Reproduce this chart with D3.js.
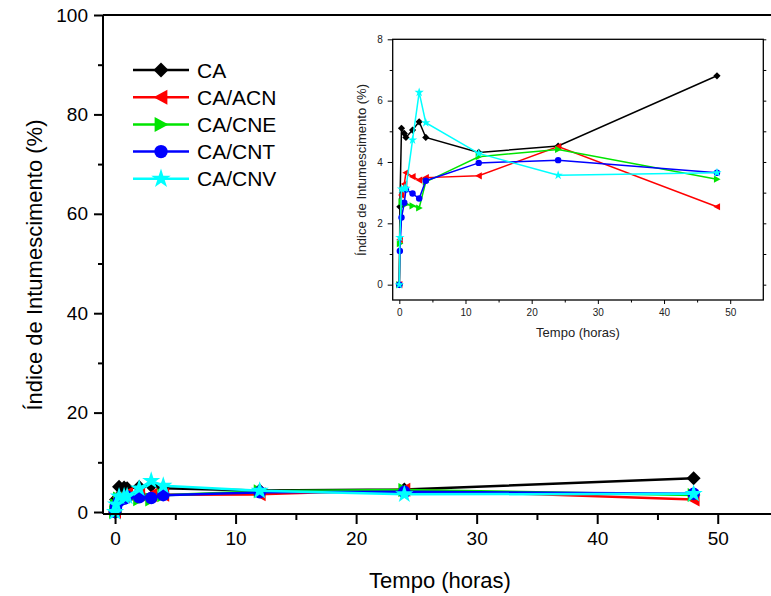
<!DOCTYPE html>
<html>
<head>
<meta charset="utf-8">
<script src="https://cdn.jsdelivr.net/npm/d3@7"></script>
<style>
  body { margin: 0; background: #fff; }
  text { font-family: "Liberation Sans", Arial, sans-serif; }
</style>
</head>
<body>
<script>
// time points (horas)
var tempo = [0, 0.083, 0.33, 0.75, 1, 2, 3, 4, 12, 24, 48];

var ca    = [0, 2.54, 5.10, 4.93, 4.80, 5.04, 5.31, 4.80, 4.31, 4.52, 6.81];
var caAcn = [0, 1.47, 2.92, 3.28, 3.65, 3.52, 3.41, 3.49, 3.55, 4.50, 2.54];
var caCne = [0, 1.34, 2.70, 2.65, 2.62, 2.57, 2.50, 3.35, 4.17, 4.41, 3.44];
var caCnt = [0, 1.10, 2.19, 2.67, 3.10, 2.97, 2.81, 3.39, 3.97, 4.06, 3.65];
var caCnv = [0, 1.54, 3.12, 3.14, 3.14, 4.72, 6.27, 5.28, 4.28, 3.57, 3.65];

var seriesNames = ["CA", "CA/ACN", "CA/CNE", "CA/CNT", "CA/CNV"];
var seriesVals = [ca, caAcn, caCne, caCnt, caCnv];
var colors = ["#000000", "#ff0000", "#00e400", "#0000ff", "#00ffff"];
var shapes = ["diamond", "left", "right", "circle", "star"];

var xTicksMain = [0, 10, 20, 30, 40, 50];
var yTicksMain = [0, 20, 40, 60, 80, 100];
var xTicksInset = [0, 10, 20, 30, 40, 50];
var yTicksInset = [0, 2, 4, 6, 8];

var W = 771, H = 596;
var svg = d3.select("body").append("svg").attr("width", W).attr("height", H);

function marker(type, r) {
  if (type == "diamond") return "M0," + (-r) + "L" + r + ",0L0," + r + "L" + (-r) + ",0Z";
  if (type == "left") return "M" + (-r) + ",0L" + (r * 0.85) + "," + (-r) + "L" + (r * 0.85) + "," + r + "Z";
  if (type == "right") return "M" + r + ",0L" + (-r * 0.85) + "," + (-r) + "L" + (-r * 0.85) + "," + r + "Z";
  if (type == "circle") return d3.symbol(d3.symbolCircle, Math.PI * r * r * 0.8)();
  return d3.symbol(d3.symbolStar, r * r * 2.1)();
}

var series = seriesNames.map(function (n, i) {
  return { name: n, color: colors[i], shape: shapes[i],
    pts: tempo.map(function (t, j) { return { t: t, v: seriesVals[i][j] }; }) };
});

// ---------- main chart ----------
var x = d3.scaleLinear().domain([-1, 55]).range([103, 778]);
var y = d3.scaleLinear().domain([-0.4, 100]).range([514, 15]);

var main = svg.append("g");

var line = d3.line().x(function (d) { return x(d.t); }).y(function (d) { return y(d.v); });

series.forEach(function (s) {
  main.append("path").attr("d", line(s.pts)).attr("fill", "none")
    .attr("stroke", s.color).attr("stroke-width", 2.5);
  main.selectAll(null).data(s.pts).enter().append("path")
    .attr("transform", function (d) { return "translate(" + x(d.t) + "," + y(d.v) + ")"; })
    .attr("d", marker(s.shape, 7))
    .attr("fill", s.color);
});

// frame
main.append("line").attr("x1", x(-1)).attr("x2", 780).attr("y1", y(-0.4)).attr("y2", y(-0.4))
  .attr("stroke", "#000").attr("stroke-width", 2);
main.append("line").attr("x1", x(-1)).attr("x2", 780).attr("y1", y(100)).attr("y2", y(100))
  .attr("stroke", "#000").attr("stroke-width", 2);
main.append("line").attr("x1", x(-1)).attr("x2", x(-1)).attr("y1", y(-0.4)).attr("y2", y(100))
  .attr("stroke", "#000").attr("stroke-width", 2);

var xAxisMain = d3.axisBottom(x).tickValues(xTicksMain).tickSize(10).tickSizeOuter(0).tickPadding(8);
var gx = main.append("g").attr("transform", "translate(0," + y(-0.4) + ")").call(xAxisMain);
gx.select(".domain").remove();
gx.selectAll("line").attr("stroke-width", 2);
gx.selectAll("text").attr("font-size", 19).attr("font-family", "Liberation Sans, Arial");
var gxm = main.append("g").attr("transform", "translate(0," + y(-0.4) + ")")
  .call(d3.axisBottom(x).tickValues(d3.range(5, 55, 10)).tickSize(6).tickFormat(""));
gxm.select(".domain").remove();
gxm.selectAll("line").attr("stroke-width", 2);

var yAxisMain = d3.axisLeft(y).tickValues(yTicksMain).tickSize(9).tickSizeOuter(0).tickPadding(6);
var gy = main.append("g").attr("transform", "translate(" + x(-1) + ",0)").call(yAxisMain);
gy.select(".domain").remove();
gy.selectAll("line").attr("stroke-width", 2);
gy.selectAll("text").attr("font-size", 19).attr("font-family", "Liberation Sans, Arial");
var gym = main.append("g").attr("transform", "translate(" + x(-1) + ",0)")
  .call(d3.axisLeft(y).tickValues(d3.range(10, 100, 20)).tickSize(5).tickFormat(""));
gym.select(".domain").remove();
gym.selectAll("line").attr("stroke-width", 2);

main.append("text").attr("x", 440).attr("y", 588).attr("text-anchor", "middle")
  .attr("font-size", 22).text("Tempo (horas)");
main.append("text").attr("transform", "translate(42,265) rotate(-90)").attr("text-anchor", "middle")
  .attr("font-size", 22).text("Índice de Intumescimento (%)");

// legend
var leg = main.append("g");
series.forEach(function (s, i) {
  var ly = 70 + i * 27.2;
  leg.append("line").attr("x1", 133).attr("x2", 189).attr("y1", ly).attr("y2", ly)
    .attr("stroke", s.color).attr("stroke-width", 2.5);
  leg.append("path").attr("transform", "translate(161," + ly + ")")
    .attr("d", marker(s.shape, 7.5)).attr("fill", s.color);
  leg.append("text").attr("x", 197).attr("y", ly + 7.5).attr("font-size", 21).text(s.name);
});

// ---------- inset ----------
var xi = d3.scaleLinear().domain([-1, 55]).range([392.7, 763.3]);
var yi = d3.scaleLinear().domain([-0.5, 8]).range([300, 39.3]);
var ins = svg.append("g");

ins.append("rect").attr("x", xi(-1)).attr("y", yi(8)).attr("width", xi(55) - xi(-1))
  .attr("height", yi(-0.5) - yi(8)).attr("fill", "#fff").attr("stroke", "#000").attr("stroke-width", 1.3);

var linei = d3.line().x(function (d) { return xi(d.t); }).y(function (d) { return yi(d.v); });
series.forEach(function (s) {
  ins.append("path").attr("d", linei(s.pts)).attr("fill", "none")
    .attr("stroke", s.color).attr("stroke-width", 1.5);
  ins.selectAll(null).data(s.pts).enter().append("path")
    .attr("transform", function (d) { return "translate(" + xi(d.t) + "," + yi(d.v) + ")"; })
    .attr("d", marker(s.shape, 3.6))
    .attr("fill", s.color);
});

var gxi = ins.append("g").attr("transform", "translate(0," + yi(-0.5) + ")")
  .call(d3.axisBottom(xi).tickValues(xTicksInset).tickSize(4).tickSizeOuter(0).tickPadding(5));
gxi.select(".domain").remove();
gxi.selectAll("text").attr("font-size", 10).attr("font-family", "Liberation Sans, Arial").attr("fill", "#222");
var gxim = ins.append("g").attr("transform", "translate(0," + yi(-0.5) + ")")
  .call(d3.axisBottom(xi).tickValues(d3.range(5, 55, 10)).tickSize(2.5).tickFormat(""));
gxim.select(".domain").remove();

var gyi = ins.append("g").attr("transform", "translate(" + xi(-1) + ",0)")
  .call(d3.axisLeft(yi).tickValues(yTicksInset).tickSize(5).tickSizeOuter(0).tickPadding(5));
gyi.select(".domain").remove();
gyi.selectAll("text").attr("font-size", 10).attr("font-family", "Liberation Sans, Arial").attr("fill", "#222");
var gyim = ins.append("g").attr("transform", "translate(" + xi(-1) + ",0)")
  .call(d3.axisLeft(yi).tickValues([1, 3, 5, 7]).tickSize(3).tickFormat(""));
gyim.select(".domain").remove();

// mirror ticks on the right
var gyr = ins.append("g").attr("transform", "translate(" + xi(55) + ",0)")
  .call(d3.axisRight(yi).tickValues(d3.range(0, 8.5, 1)).tickSize(3).tickFormat(""));
gyr.select(".domain").remove();

ins.append("text").attr("x", 578).attr("y", 337).attr("text-anchor", "middle")
  .attr("font-size", 13).attr("fill", "#222").text("Tempo (horas)");
ins.append("text").attr("transform", "translate(366,170) rotate(-90)").attr("text-anchor", "middle")
  .attr("font-size", 13).attr("fill", "#222").text("Índice de Intumescimento (%)");
</script>
</body>
</html>
